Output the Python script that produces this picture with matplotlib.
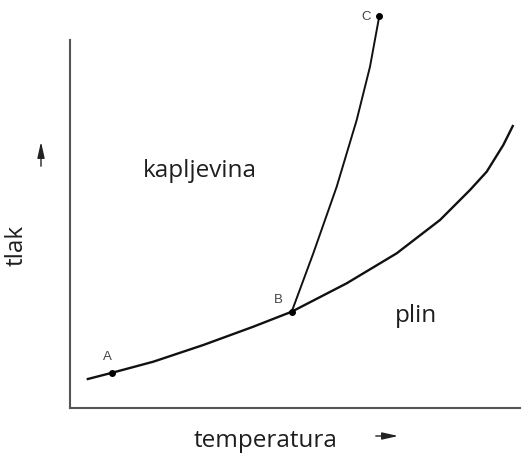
import numpy as np
from matplotlib import pyplot as plt

# Vapour pressure curve (temperature, pressure) in arbitrary units
vap_t = [16.7, 42.3, 83.3, 133.3, 183.3, 221.7, 276.7, 326.7, 370, 400, 416.7, 433.3, 443.3]
vap_p = [28.7, 35.3, 46.3, 63, 81.3, 96.3, 124.7, 154.7, 188, 218, 236.3, 263, 283]

# Melting line from triple point B to C
melt_t = [221.7, 243.3, 266.7, 286.7, 300, 309.3]
melt_p = [96.3, 154.7, 221.3, 288, 341.3, 392]

# Labelled points
pt_names = ["A", "B", "C"]
pt_t = [42.3, 221.7, 309.3]
pt_p = [35.3, 96.3, 392]

fig = plt.figure(figsize=(5.24, 4.54), dpi=100)
ax = fig.add_axes([70/524, 46/454, 450/524, 368/454])
ax.set_xlim(0, 450)
ax.set_ylim(0, 368)

ax.plot(vap_t, vap_p, color='#111111', lw=1.7, clip_on=False,
        solid_capstyle='butt', solid_joinstyle='round')
ax.plot(melt_t, melt_p, color='#111111', lw=1.4, clip_on=False,
        solid_joinstyle='round')
ax.scatter(pt_t, pt_p, s=16, color='black', zorder=3, clip_on=False)

# Point labels
offsets = {"A": (-5, 16), "B": (-13, 12), "C": (-13, -1)}
for name, t, p in zip(pt_names, pt_t, pt_p):
    dx, dy = offsets[name]
    ax.text(t + dx, p + dy, name, fontsize=9.5, color='#444444',
            family='Liberation Sans', ha='center', va='center', clip_on=False)

# Region labels
lab = dict(fontsize=17.5, color='#1e1e1e', family='Open Sans', ha='center', va='center')
ax.text(130, 237, "kapljevina", **lab)
ax.text(346, 92, "plin", **lab)

# Spines
for side in ['top', 'right']:
    ax.spines[side].set_visible(False)
for side in ['left', 'bottom']:
    ax.spines[side].set_color('#555555')
    ax.spines[side].set_linewidth(1.5)
ax.set_xticks([])
ax.set_yticks([])

# Axis labels with arrows
fig.text(266/524, 1 - 441/454, "temperatura", **lab)
fig.text(17/524, 1 - 245/454, "tlak", rotation=90, **lab)
arrow = dict(arrowstyle='-|>,head_length=0.8,head_width=0.18', color='#222222',
             lw=1.0, mutation_scale=12)
fig.add_artist(plt.matplotlib.patches.FancyArrowPatch(
    (373/524, 1 - 436/454), (401/524, 1 - 436/454),
    transform=fig.transFigure, **arrow))
fig.add_artist(plt.matplotlib.patches.FancyArrowPatch(
    (41/524, 1 - 169/454), (41/524, 1 - 139/454),
    transform=fig.transFigure, **arrow))

plt.savefig('out.png', dpi=100, facecolor='white')
plt.close()
